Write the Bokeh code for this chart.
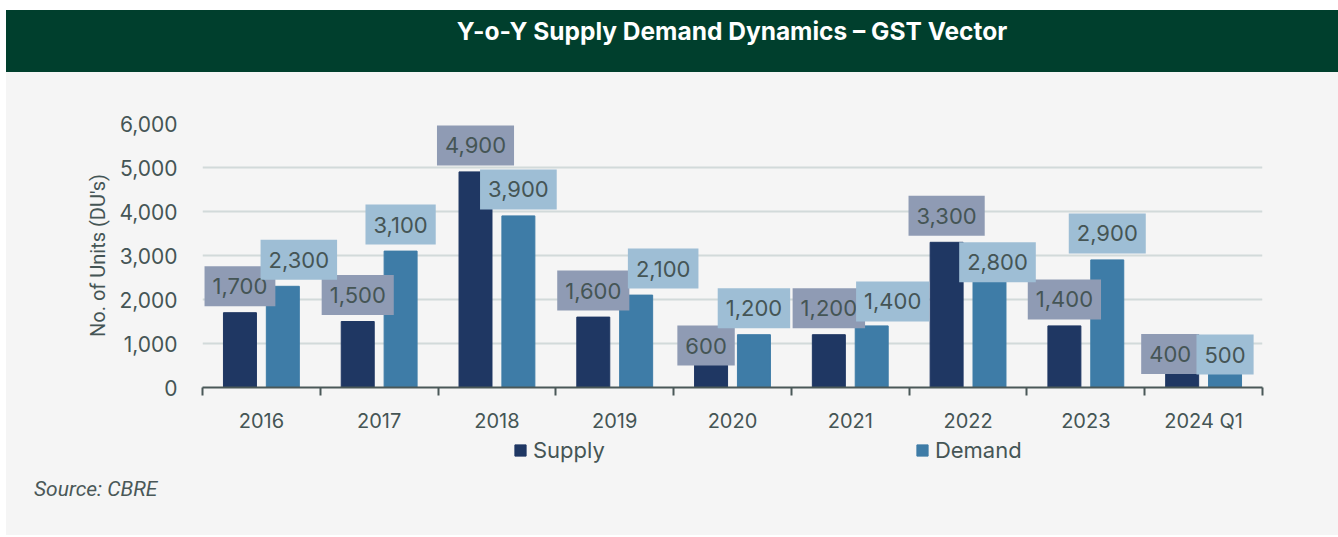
import numpy as np
from bokeh.plotting import figure
from bokeh.models import (Range1d, FixedTicker, NumeralTickFormatter, Label,
                          Legend, LegendItem, Div)
from bokeh.layouts import column
from bokeh.embed import file_html
from bokeh.resources import INLINE

# ---------------- data ----------------
categories = ["2016", "2017", "2018", "2019", "2020", "2021", "2022", "2023", "2024 Q1"]
supply = [1700, 1500, 4900, 1600, 600, 1200, 3300, 1400, 400]
demand = [2300, 3100, 3900, 2100, 1200, 1400, 2800, 2900, 500]
y_ticks = [0, 1000, 2000, 3000, 4000, 5000, 6000]

# ---------------- layout hints for data labels (pixels) ----------------
supply_dx = [0, 0, 0, 0, -5, 0, 0, 0, -12]
supply_dy = [0, 0, 0, 0, -11, 0, 0, 0, -10.5]
demand_dx = [16, 0, 0, 27, 0, 21, 8, 0, 0]
demand_dy = [0, 0, 0, 0, 0, -2, -24.5, 0, -15.5]

# ---------------- styles ----------------
BG = "#f5f5f5"
GREEN = "#003f2d"
SUPPLY_C = "#1f3763"
DEMAND_C = "#3e7ca7"
SUPPLY_LBL = "#8f9bb4"
DEMAND_LBL = "#9ebed5"
TXT = "#455555"
FONT = "Inter"
W = 1332
BL, BR = 196, 76   # left / right borders around the plot frame

header = Div(
    text=('<div style="width:1060px;margin-left:196px;text-align:center;color:#ffffff;'
          'font-family:Inter;font-weight:700;font-size:24.5px;line-height:43px;">'
          'Y-o-Y Supply Demand Dynamics \u2013 GST Vector</div>'),
    width=W, height=62, margin=0, styles={"background-color": GREEN})

p = figure(width=W, height=363,
           x_range=Range1d(-0.5, 8.5), y_range=Range1d(0, 6000),
           output_backend="svg", toolbar_location=None,
           min_border_left=BL, min_border_right=BR,
           min_border_top=51, min_border_bottom=48,
           background_fill_color=BG, border_fill_color=BG,
           outline_line_color=None)

xs = np.arange(len(categories))
off = 0.182
bw = 0.28
p.vbar(x=xs - off, top=supply, width=bw, color=SUPPLY_C)
p.vbar(x=xs + off, top=demand, width=bw, color=DEMAND_C)

# x axis
p.xaxis.ticker = FixedTicker(ticks=list(range(len(categories))),
                             minor_ticks=[i - 0.5 for i in range(len(categories) + 1)])
p.xaxis.major_label_overrides = {i: c for i, c in enumerate(categories)}
p.xaxis.axis_line_color = "#4a5858"
p.xaxis.axis_line_width = 2
p.xaxis.major_tick_line_color = None
p.xaxis.major_tick_out = 0
p.xaxis.major_tick_in = 0
p.xaxis.minor_tick_line_color = "#4a5858"
p.xaxis.minor_tick_line_width = 2
p.xaxis.minor_tick_out = 8
p.xaxis.minor_tick_in = 0
p.xaxis.major_label_standoff = 13
p.xaxis.major_label_text_font = FONT
p.xaxis.major_label_text_font_size = "20px"
p.xaxis.major_label_text_color = TXT

# y axis
p.yaxis.ticker = FixedTicker(ticks=y_ticks)
p.yaxis.formatter = NumeralTickFormatter(format="0,0")
p.yaxis.axis_line_color = None
p.yaxis.major_tick_line_color = None
p.yaxis.minor_tick_line_color = None
p.yaxis.major_tick_out = 0
p.yaxis.major_label_standoff = 25
p.yaxis.major_label_text_font = FONT
p.yaxis.major_label_text_font_size = "21px"
p.yaxis.major_label_text_color = TXT
p.yaxis.axis_label = "No. of Units (DU's)"
p.yaxis.axis_label_text_font = "Roboto"
p.yaxis.axis_label_text_font_size = "20px"
p.yaxis.axis_label_text_font_style = "normal"
p.yaxis.axis_label_text_color = TXT
p.yaxis.axis_label_standoff = 6

p.xgrid.visible = False
p.ygrid.grid_line_color = "#d2dada"
p.ygrid.grid_line_width = 2

# data labels
def add_labels(vals, sign, dxs, dys, fill):
    for i, v in enumerate(vals):
        p.add_layout(Label(x=i + sign * off, y=v, text=f"{v:,}",
                           x_offset=dxs[i], y_offset=26.5 + dys[i],
                           text_align="center", text_baseline="middle",
                           text_font=FONT, text_font_size="22px", text_color=TXT,
                           background_fill_color=fill, background_fill_alpha=1.0,
                           padding=(8, 12)))

add_labels(supply, -1, supply_dx, supply_dy, SUPPLY_LBL)
add_labels(demand, 1, demand_dx, demand_dy, DEMAND_LBL)

# ---------------- legend strip ----------------
H2 = 35
p2 = figure(width=W, height=H2, x_range=Range1d(-0.5, 8.5), y_range=Range1d(0, 6000),
            output_backend="svg", toolbar_location=None,
            min_border_left=BL, min_border_right=BR, min_border_top=0, min_border_bottom=0,
            x_axis_type=None, y_axis_type=None,
            background_fill_color=BG, border_fill_color=BG,
            outline_line_color=None)
p2.grid.visible = False
lr_s = p2.vbar(x=xs - off, top=supply, width=bw, color=SUPPLY_C, visible=False)
lr_d = p2.vbar(x=xs + off, top=demand, width=bw, color=DEMAND_C, visible=False)
legend = Legend(items=[LegendItem(label="Supply", renderers=[lr_s]),
                       LegendItem(label="Demand", renderers=[lr_d])],
                orientation="horizontal", location=(311, 7),
                spacing=310, padding=0, margin=0,
                glyph_width=14, glyph_height=14, label_standoff=6,
                label_text_font=FONT, label_text_font_size="22px",
                label_text_color=TXT,
                background_fill_alpha=0, border_line_color=None)
p2.add_layout(legend)

footer = Div(
    text=('<div style="padding-top:4px;padding-left:28px;font-family:Roboto;'
          'font-style:italic;font-size:21px;color:#4a5858;">Source: CBRE</div>'),
    width=W, height=65, margin=0, styles={"background-color": BG})

layout = column(header, p, p2, footer, spacing=0, margin=(10, 0, 0, 6),
                styles={"background-color": BG})
open("out.html", "w").write(file_html(layout, INLINE))
